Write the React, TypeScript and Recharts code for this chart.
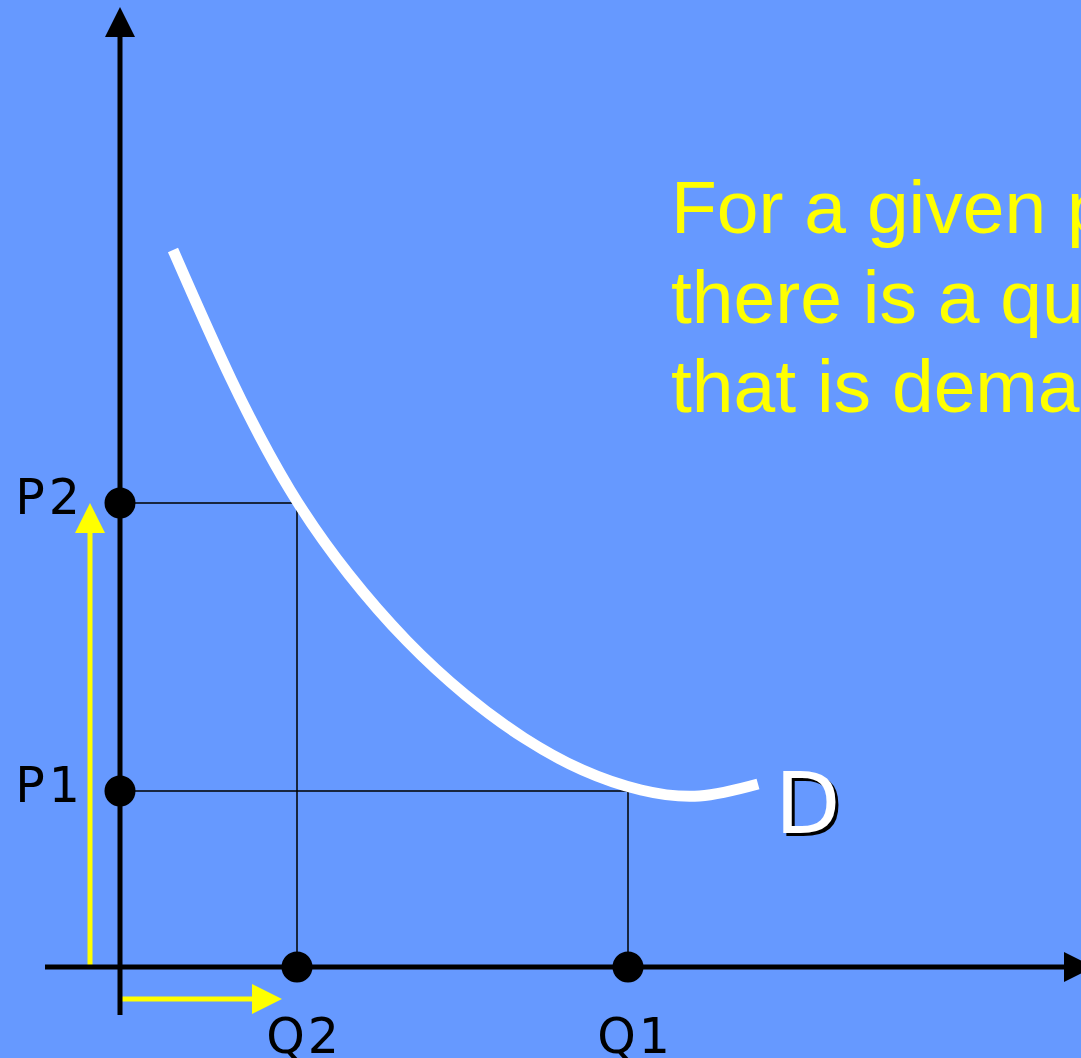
import React from "react";
import { ComposedChart, Line, Scatter, XAxis, YAxis, Customized } from "recharts";

// ---- data (chart units) ----
const xAxisLine = [{ x: -7.5, y: 0 }, { x: 94.4, y: 0 }];
const yAxisLine = [{ x: 0, y: -4.8 }, { x: 0, y: 93.0 }];
const axisHeads = [{ x: 94.4, y: 0, dir: "right" }, { x: 0, y: 93.0, dir: "up" }];

const priceLabels = ["P1", "P2"];
const priceValues = [17.6, 46.4];
const quantityLabels = ["Q1", "Q2"];
const quantityValues = [50.8, 17.7];

const demandX = [5.3, 11.15, 17.0, 22.85, 28.7, 34.55, 40.4, 46.25, 52.1, 57.95, 63.8];
const demandY = [71.7, 58.7, 47.7, 39.3, 32.6, 27.2, 22.9, 19.7, 17.7, 17.1, 18.3];
const demandLabel = "D";

const yellowUp = [{ x: -3.0, y: 0 }, { x: -3.0, y: 43.4 }];
const yellowRight = [{ x: 0, y: -3.2 }, { x: 13.2, y: -3.2 }];
const yellowHeads = [{ x: -3.0, y: 43.4, dir: "up" }, { x: 13.2, y: -3.2, dir: "right" }];

const noteLines = ["For a given price,", "there is a quantity", "that is demanded."];

// ---- derived tables ----
const demandCurve = demandX.map((x, i) => ({ x, y: demandY[i] }));
const priceDots = priceValues.map((y, i) => ({ x: 0, y, label: priceLabels[i] }));
const quantityDots = quantityValues.map((x, i) => ({ x, y: 0, label: quantityLabels[i] }));
const guideLines = priceValues.map((p, i) => [
  { x: 0, y: p },
  { x: quantityValues[i], y: p },
  { x: quantityValues[i], y: 0 },
]);
const demandEnd = [{ ...demandCurve[demandCurve.length - 1], label: demandLabel }];

const BG = "#6699FF";
const YELLOW = "#FFFF00";
const LABEL_FONT = "'DejaVu Sans', sans-serif";

const Head = (color: string) => (props: any) => {
  const { cx, cy, payload } = props;
  if (cx == null || cy == null) return null;
  const L = 30;
  const H = 15;
  const pts =
    payload.dir === "up"
      ? `${cx - H},${cy} ${cx + H},${cy} ${cx},${cy - L}`
      : `${cx},${cy - H} ${cx},${cy + H} ${cx + L},${cy}`;
  return <polygon points={pts} fill={color} />;
};

const PriceDot = (props: any) => {
  const { cx, cy, payload } = props;
  if (cx == null || cy == null) return null;
  return (
    <g>
      <circle cx={cx} cy={cy} r={15.5} fill="#000" />
      <text x={cx - 36} y={cy + 11} textAnchor="end" fontFamily={LABEL_FONT} fontSize={49} letterSpacing={4} fill="#000">
        {payload.label}
      </text>
    </g>
  );
};

const QuantityDot = (props: any) => {
  const { cx, cy, payload } = props;
  if (cx == null || cy == null) return null;
  return (
    <g>
      <circle cx={cx} cy={cy} r={15.5} fill="#000" />
      <text x={cx + 7} y={cy + 86} textAnchor="middle" fontFamily={LABEL_FONT} fontSize={49} letterSpacing={3} fill="#000">
        {payload.label}
      </text>
    </g>
  );
};

const DemandLabel = (props: any) => {
  const { cx, cy, payload } = props;
  if (cx == null || cy == null) return null;
  return (
    <g>
      <text x={cx + 20} y={cy + 52} fontFamily={LABEL_FONT} fontSize={85} fill="#000">
        {payload.label}
      </text>
      <text x={cx + 17} y={cy + 49} fontFamily={LABEL_FONT} fontSize={85} fill="#fff">
        {payload.label}
      </text>
    </g>
  );
};

const Note = () => (
  <text fontFamily="'Liberation Sans', Arial, sans-serif" fontSize={75} fill={YELLOW}>
    {noteLines.map((t, i) => (
      <tspan key={i} x={671} y={233 + i * 89.5}>
        {t}
      </tspan>
    ))}
  </text>
);

const lineCommon = { type: "linear" as const, dot: false, activeDot: false, isAnimationActive: false, dataKey: "y" };

export default function App() {
  return (
    <div style={{ position: "absolute", left: 0, top: 0, width: 1081, height: 1058, background: BG, overflow: "hidden" }}>
      <ComposedChart width={1081} height={1058} margin={{ top: 0, right: 0, bottom: 0, left: 0 }}>
        <XAxis type="number" dataKey="x" domain={[-12, 96.1]} hide allowDataOverflow />
        <YAxis type="number" dataKey="y" domain={[-9.1, 96.7]} hide allowDataOverflow />

        <Line {...lineCommon} data={yellowUp} stroke={YELLOW} strokeWidth={5} />
        <Line {...lineCommon} data={yellowRight} stroke={YELLOW} strokeWidth={5} />
        <Scatter data={yellowHeads} shape={Head(YELLOW)} isAnimationActive={false} />

        {guideLines.map((g, i) => (
          <Line key={i} {...lineCommon} data={g} stroke="#000" strokeWidth={1.5} />
        ))}

        <Line {...lineCommon} type="natural" data={demandCurve} stroke="#fff" strokeWidth={11} strokeLinecap="butt" />

        <Line {...lineCommon} data={xAxisLine} stroke="#000" strokeWidth={5} />
        <Line {...lineCommon} data={yAxisLine} stroke="#000" strokeWidth={5} />
        <Scatter data={axisHeads} shape={Head("#000")} isAnimationActive={false} />

        <Scatter data={priceDots} shape={PriceDot} isAnimationActive={false} />
        <Scatter data={quantityDots} shape={QuantityDot} isAnimationActive={false} />
        <Scatter data={demandEnd} shape={DemandLabel} isAnimationActive={false} />

        <Customized component={Note} />
      </ComposedChart>
    </div>
  );
}
